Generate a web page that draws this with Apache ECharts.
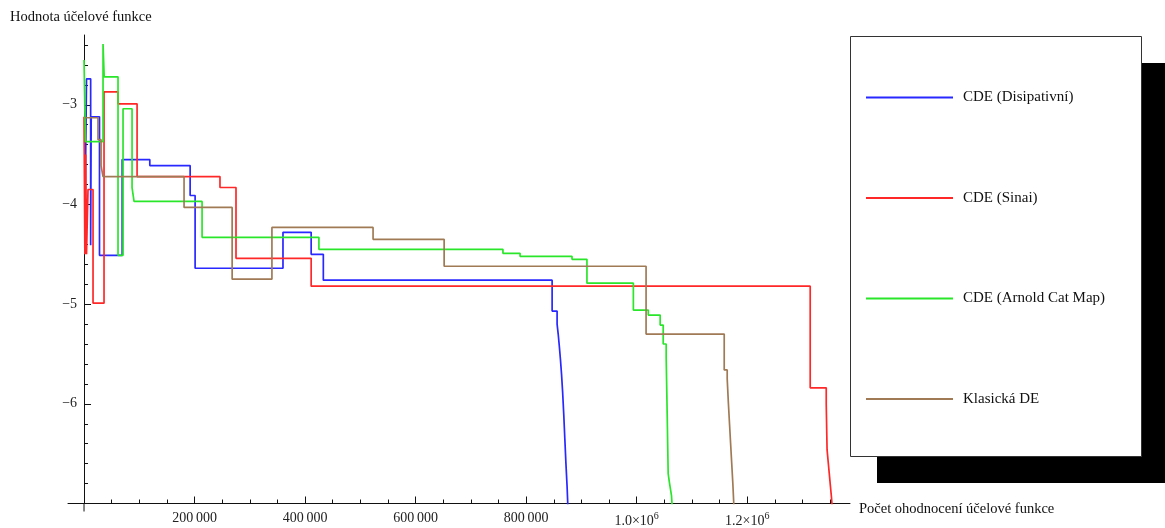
<!DOCTYPE html>
<html>
<head>
<meta charset="utf-8">
<title>Hodnota účelové funkce</title>
<script src="https://cdn.jsdelivr.net/npm/echarts@6/dist/echarts.min.js"></script>
<style>
  html, body { margin: 0; padding: 0; background: #fff; }
  #chart { width: 1165px; height: 528px; }
</style>
</head>
<body>
<div id="chart"></div>
<script>
// Series names (legend order)
const seriesNames = ['CDE (Disipativní)', 'CDE (Sinai)', 'CDE (Arnold Cat Map)', 'Klasická DE'];

// [evaluations, objective value] — each value holds until the next point
const disipativni = [
  [1500, -4.30], [4500, -2.74], [12000, -4.41], [13000, -3.12], [28000, -4.51],
  [69000, -3.55], [119000, -3.61], [192000, -3.91], [201000, -4.64], [360000, -4.28],
  [411000, -4.50], [433000, -4.76], [847000, -5.07], [856000, -5.20], [858000, -5.30],
  [860000, -5.42], [862000, -5.55], [864000, -5.70], [866000, -5.88], [868000, -6.10],
  [870000, -6.35], [872000, -6.60], [874000, -6.82], [876000, -7.10]
];
const sinai = [
  [0, -3.12], [1500, -4.50], [3000, -3.50], [4500, -4.50], [7200, -3.85],
  [16300, -4.99], [36200, -2.87], [61500, -2.99], [96000, -3.72], [246000, -3.83],
  [275000, -4.54], [411000, -4.82], [1314000, -5.84], [1343000, -6.00], [1344500, -6.46],
  [1346500, -6.58], [1348500, -6.70], [1350500, -6.82], [1352500, -6.94], [1354500, -7.10]
];
const arnoldCatMap = [
  [0, -2.55], [2500, -3.37], [34400, -2.39], [36500, -2.72], [61500, -4.51],
  [70600, -3.04], [86900, -3.83], [90500, -3.97], [213600, -4.33], [425000, -4.45],
  [758000, -4.49], [789000, -4.52], [883000, -4.55], [910000, -4.79], [994000, -5.06],
  [1021000, -5.11], [1042500, -5.21], [1048000, -5.40], [1053400, -5.54], [1055200, -6.10],
  [1057000, -6.70], [1059000, -6.78], [1061000, -6.85], [1063000, -6.92], [1065000, -7.10]
];
const klasickaDE = [
  [1800, -3.13], [25300, -3.35], [30800, -3.61], [34400, -3.72], [181000, -4.03],
  [268000, -4.75], [340000, -4.23], [523000, -4.35], [651600, -4.62], [1017000, -5.30],
  [1158400, -5.66], [1163800, -5.75], [1166000, -6.00], [1168000, -6.20], [1170000, -6.40],
  [1172000, -6.60], [1174000, -6.80], [1176500, -7.10]
];

// Axis tick labels
const xMajorTicks = [200000, 400000, 600000, 800000, 1000000, 1200000];
const xMajorLabels = ['200\u2009000', '400\u2009000', '600\u2009000', '800\u2009000', '{m|1.0\u00d710}{s|6}', '{m|1.2\u00d710}{s|6}'];
const yMajorTicks = [-3, -4, -5, -6];
const yMajorLabels = ['\u22123', '\u22124', '\u22125', '\u22126'];

const seriesColors = ['#2828ff', '#ff2828', '#2ae62a', '#a07a55'];
const seriesData = [disipativni, sinai, arnoldCatMap, klasickaDE];

// Axis ranges
const X_MIN = -29000, X_MAX = 1386000;
const Y_MIN = -7, Y_MAX = -2.3;

// Plot area
const GRID = { left: 68, top: 35, width: 782, height: 472 };
// the vertical axis sits at x = 0, a little inside the plot's left edge
const yAxisShift = -(0 - X_MIN) / (X_MAX - X_MIN) * GRID.width;

// minor tick positions: every 50 000 along x, every 0.2 along y
const xMinorTicks = [];
for (let v = 50000; v <= 1350000; v += 50000) xMinorTicks.push(v);
const yMinorTicks = [];
for (let k = -34; k <= -12; k++) yMinorTicks.push(+(k * 0.2).toFixed(1));

const serif = '"Liberation Serif", "DejaVu Serif", serif';
const axisColor = '#111';

const chart = echarts.init(document.getElementById('chart'), null, { renderer: 'canvas' });

const option = {
  animation: false,
  backgroundColor: '#fff',
  title: {
    text: 'Hodnota účelové funkce',
    left: 5, top: 5,
    textStyle: { fontFamily: serif, fontSize: 14.5, fontWeight: 'normal', color: '#111' }
  },
  grid: GRID,
  xAxis: [
    {
      type: 'value', min: X_MIN, max: X_MAX, position: 'bottom',
      name: '{n|Počet ohodnocení účelové funkce}', nameLocation: 'end', nameGap: 9,
      nameTextStyle: {
        fontFamily: serif, fontSize: 14.5, color: '#111',
        rich: { n: { fontFamily: serif, fontSize: 14.5, color: '#111', padding: [11, 0, 0, 0] } }
      },
      axisLine: { show: true, onZero: false, lineStyle: { color: axisColor, width: 1 } },
      axisTick: { show: true, inside: true, length: 4, customValues: xMinorTicks, lineStyle: { color: axisColor } },
      axisLabel: { show: false },
      splitLine: { show: false }
    },
    {
      type: 'value', min: X_MIN, max: X_MAX, position: 'bottom',
      axisLine: { show: false, onZero: false },
      axisTick: { show: true, inside: true, length: 7, customValues: xMajorTicks, lineStyle: { color: axisColor } },
      axisLabel: {
        show: true, margin: 8, customValues: xMajorTicks,
        fontFamily: serif, fontSize: 14, color: '#222',
        formatter: function (v) { return xMajorLabels[xMajorTicks.indexOf(v)]; },
        rich: {
          m: { fontFamily: serif, fontSize: 14, color: '#222' },
          s: { fontFamily: serif, fontSize: 10, color: '#222', padding: [0, 0, 9, 0] }
        }
      },
      splitLine: { show: false }
    }
  ],
  yAxis: [
    {
      type: 'value', min: Y_MIN, max: Y_MAX, position: 'left',
      offset: yAxisShift,
      axisLine: { show: true, onZero: false, lineStyle: { color: axisColor, width: 1 } },
      axisTick: { show: true, inside: true, length: 4, customValues: yMinorTicks, lineStyle: { color: axisColor } },
      axisLabel: { show: false },
      splitLine: { show: false }
    },
    {
      type: 'value', min: Y_MIN, max: Y_MAX, position: 'left',
      offset: yAxisShift,
      axisLine: { show: false, onZero: false },
      axisTick: { show: true, inside: true, length: 7, customValues: yMajorTicks, lineStyle: { color: axisColor } },
      axisLabel: {
        show: true, margin: 7, customValues: yMajorTicks,
        fontFamily: serif, fontSize: 14, color: '#222',
        formatter: function (v) { return yMajorLabels[yMajorTicks.indexOf(v)]; }
      },
      splitLine: { show: false }
    }
  ],
  legend: {
    orient: 'vertical',
    left: 861, top: 85,
    itemWidth: 87, itemHeight: 2, itemGap: 85.5,
    icon: 'rect',
    selectedMode: false,
    data: seriesNames,
    textStyle: { fontFamily: serif, fontSize: 15, color: '#111', lineHeight: 14, padding: [0, 0, 0, 5] },
    z: 10
  },
  graphic: [
    { type: 'rect', id: 'legendShadow', z: 1, shape: { x: 877, y: 63, width: 300, height: 420 }, style: { fill: '#000' } },
    { type: 'rect', id: 'legendBox', z: 2, shape: { x: 850.5, y: 36.5, width: 291, height: 420 }, style: { fill: '#fff', stroke: '#333', lineWidth: 1 } }
  ],
  series: seriesNames.map(function (name, i) {
    return {
      name: name,
      type: 'line',
      step: 'end',
      xAxisIndex: 0, yAxisIndex: 0,
      data: seriesData[i],
      showSymbol: false, symbol: 'none',
      clip: true,
      color: seriesColors[i],
      lineStyle: { color: seriesColors[i], width: 1.7 }
    };
  })
};

chart.setOption(option);

// short continuation of the vertical axis below the horizontal one
const origin = chart.convertToPixel({ gridIndex: 0 }, [0, Y_MIN]);
chart.setOption({
  graphic: [
    { type: 'line', id: 'yAxisTail', shape: { x1: origin[0], y1: origin[1], x2: origin[0], y2: origin[1] + 8 }, style: { stroke: axisColor, lineWidth: 1 } }
  ]
});
</script>
</body>
</html>
